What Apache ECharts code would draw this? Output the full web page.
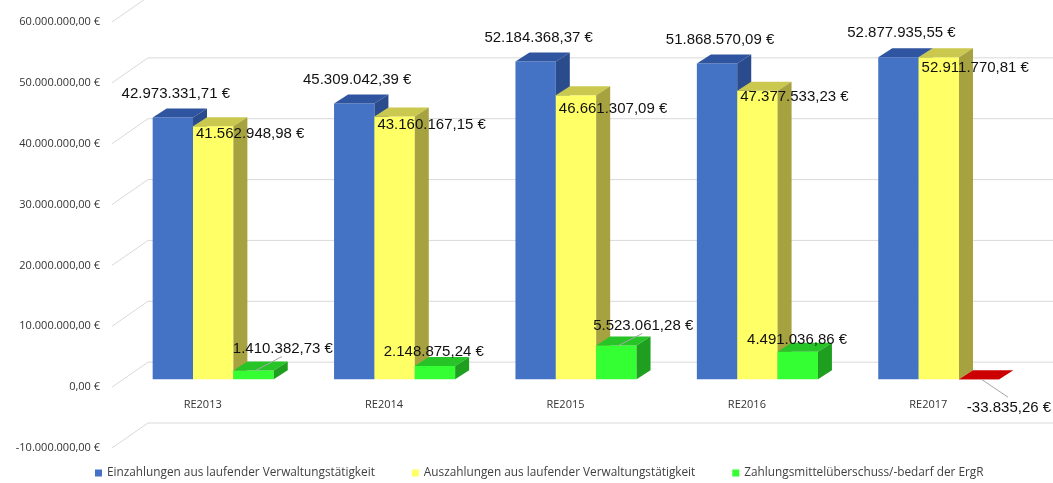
<!DOCTYPE html>
<html>
<head>
<meta charset="utf-8">
<script src="https://cdn.jsdelivr.net/npm/echarts@6/dist/echarts.min.js"></script>
<style>
  html, body { margin: 0; padding: 0; background: #fff; }
  #chart { width: 1053px; height: 483px; }
</style>
</head>
<body>
<div id="chart"></div>
<script>
// values
const categories = ['RE2013', 'RE2014', 'RE2015', 'RE2016', 'RE2017'];
const einzahlungen = [42973331.71, 45309042.39, 52184368.37, 51868570.09, 52877935.55];
const auszahlungen = [41562948.98, 43160167.15, 46661307.09, 47377533.23, 52911770.81];
const saldo = [1410382.73, 2148875.24, 5523061.28, 4491036.86, -33835.26];
const yTicks = [-10000000, 0, 10000000, 20000000, 30000000, 40000000, 50000000, 60000000];
const seriesNames = [
  'Einzahlungen aus laufender Verwaltungstätigkeit',
  'Auszahlungen aus laufender Verwaltungstätigkeit',
  'Zahlungsmittelüberschuss/-bedarf der ErgR'
];

// styling / fake-3d geometry
const faces = [
  { front: '#4472c4', top: '#3055a0', side: '#2a4c8c' },
  { front: '#ffff66', top: '#cbc84f', side: '#a6a23f' },
  { front: '#33ff33', top: '#27c427', side: '#1f9f1f' }
];
const negFaces = { front: '#cc0000', top: '#cc0000', side: '#a30000' };
const WALL = [36, -25];     // depth of the side wall / gridlines
const SHIFT = [10.5, -8];   // bars' front plane vs axis plane
const DEPTH = [14, -9];     // depth of one bar
const BAR_FRAC = 0.2225;    // bar width as part of a category band
const yellowLabelDy = [8, 8, 14, 6, 11];
const greenLabelPos = [[49.5, -22], [19, -14], [47, -20], [19.5, -12], [50, 29]];
const LABEL_FONT = '15px "Liberation Sans", Arial, sans-serif';

function fmtEuro(v) {
  const neg = v < 0;
  const s = Math.abs(v).toFixed(2).split('.');
  const int = s[0].replace(/\B(?=(\d{3})+(?!\d))/g, '.');
  return (neg ? '-' : '') + int + ',' + s[1] + ' €';
}

function barRenderer(s) {
  return function (params, api) {
    const i = api.value(0);
    const v = api.value(1);
    const c0 = api.coord([i, 0]);
    const c1 = api.coord([i, v]);
    const band = api.size([1, 0])[0];
    const bw = band * BAR_FRAC;
    const x0 = c0[0] - 1.5 * bw + s * bw + SHIFT[0];
    const yb = c0[1] + SHIFT[1];
    const yt = c1[1] + SHIFT[1];
    const top = Math.min(yb, yt);
    const bot = Math.max(yb, yt);
    const f = v < 0 ? negFaces : faces[s];
    const dx = DEPTH[0], dy = DEPTH[1];
    const children = [
      { type: 'rect', shape: { x: x0, y: top, width: bw, height: Math.max(bot - top, 0.3) },
        style: { fill: f.front } },
      { type: 'polygon', shape: { points: [[x0, top], [x0 + bw, top], [x0 + bw + dx, top + dy], [x0 + dx, top + dy]] },
        style: { fill: f.top } },
      { type: 'polygon', shape: { points: [[x0 + bw, top], [x0 + bw + dx, top + dy], [x0 + bw + dx, bot + dy], [x0 + bw, bot]] },
        style: { fill: f.side } }
    ];
    const text = fmtEuro(v);
    if (s === 0) {
      children.push({ type: 'text', z2: 10, style: { text: text, x: x0 + bw / 2 + 3, y: top + dy - 15,
        align: 'center', verticalAlign: 'middle', fill: '#111', font: LABEL_FONT } });
    } else if (s === 1) {
      children.push({ type: 'text', z2: 10, style: { text: text, x: x0 + 3, y: top + yellowLabelDy[i],
        align: 'left', verticalAlign: 'middle', fill: '#111', font: LABEL_FONT } });
    } else {
      const p = greenLabelPos[i];
      const lx = x0 + p[0], ly = top + p[1];
      if (Math.abs(p[0]) > 30) {
        const sy = p[1] < 0 ? ly + 8 : ly - 11;
        children.push({ type: 'line', z2: 5, shape: { x1: lx - 1, y1: sy, x2: x0 + bw / 2 + 2, y2: top },
          style: { stroke: '#a6a6a6', lineWidth: 1 } });
      }
      children.push({ type: 'text', z2: 10, style: { text: text, x: lx, y: ly,
        align: 'center', verticalAlign: 'middle', fill: '#111', font: LABEL_FONT } });
    }
    return { type: 'group', children: children };
  };
}

function gridRenderer(params, api) {
  const cs = params.coordSys;
  const y = api.coord([0, api.value(1)])[1];
  const x = cs.x;
  return {
    type: 'polyline',
    shape: { points: [[x, y], [x + WALL[0], y + WALL[1]], [x + cs.width + WALL[0], y + WALL[1]]] },
    style: { stroke: '#d9d9d9', lineWidth: 1, fill: null }
  };
}

const chart = echarts.init(document.getElementById('chart'));

const series = [{
  type: 'custom',
  name: 'grid',
  renderItem: gridRenderer,
  data: yTicks.map(function (t) { return [0, t]; }),
  encode: { x: 0, y: 1 },
  silent: true,
  z: 0
}];
[einzahlungen, auszahlungen, saldo].forEach(function (arr, s) {
  series.push({
    type: 'custom',
    name: seriesNames[s],
    renderItem: barRenderer(s),
    itemStyle: { color: faces[s].front },
    data: arr.map(function (v, i) { return [i, v]; }),
    encode: { x: 0, y: 1 },
    z: 2 + s
  });
});

chart.setOption({
  animation: false,
  backgroundColor: '#ffffff',
  grid: { left: 112, right: 34, top: 22, bottom: 35, containLabel: false },
  xAxis: {
    type: 'category',
    data: categories,
    offset: -61,
    axisLine: { show: false, onZero: false },
    axisTick: { show: false },
    axisLabel: { margin: 12, fontSize: 11, color: '#333', fontFamily: '"Open Sans", sans-serif' },
    splitLine: { show: false }
  },
  yAxis: {
    type: 'value',
    min: -10000000,
    max: 60000000,
    interval: 10000000,
    axisLine: { show: false },
    axisTick: { show: false },
    splitLine: { show: false },
    axisLabel: {
      margin: 12,
      fontSize: 11,
      color: '#333',
      fontFamily: '"Open Sans", sans-serif',
      formatter: function (v) { return fmtEuro(v); }
    }
  },
  legend: {
    data: seriesNames,
    left: 90,
    top: 462,
    icon: 'rect',
    itemWidth: 7,
    itemHeight: 7,
    itemGap: 37,
    textStyle: { fontSize: 11.8, color: '#404040', fontFamily: '"Open Sans", sans-serif' }
  },
  series: series
});
</script>
</body>
</html>
